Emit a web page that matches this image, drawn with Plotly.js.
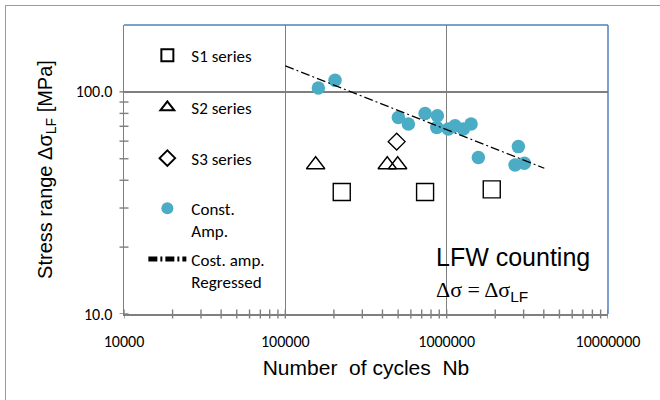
<!DOCTYPE html>
<html>
<head>
<meta charset="utf-8">
<script src="https://cdn.plot.ly/plotly-3.0.1.min.js"></script>
<style>
  html, body { margin: 0; padding: 0; background: #fff; }
  #wrap { position: relative; width: 660px; height: 400px; overflow: hidden; }
  #frame { position: absolute; left: 5px; top: 5px; width: 700px; height: 500px;
           border-left: 1px solid #9a9a9a; border-top: 1px solid #9a9a9a; }
  #chart { position: absolute; left: 0; top: 0; width: 660px; height: 400px; }
</style>
</head>
<body>
<div id="wrap"><div id="frame"></div><div id="chart"></div></div>
<script>
// ---- data ----
const s1Cycles = [223700, 734800, 1903000];
const s1Stress = [35.4, 35.4, 36.4];

const s2Cycles = [154100, 428200, 496800];
const s2Stress = [47, 47, 47];

const s3Cycles = [490000];
const s3Stress = [59.7];

const caCycles = [160200, 203300, 501900, 578900, 734800, 875800, 868200, 1024500,
                  1127000, 1269000, 1416700, 1572000, 2783000, 2655000, 3031000];
const caStress = [104.2, 112.8, 76.7, 71.6, 79.9, 78.0, 69.2, 68.0,
                  70.4, 68.0, 71.6, 50.6, 56.7, 46.9, 47.7];

const regCycles = [100000, 4030000];
const regStress = [131, 45.3];

const seriesNames = ['S1 series', 'S2 series', 'S3 series', 'Const.<br>Amp.', 'Cost. amp.<br>Regressed'];

// decade ticks and the minor (2..9) ticks of each decade
const xMajorTicks = [1e4, 1e5, 1e6, 1e7];
const yMajorTicks = [10, 100];
const minorDigits = [2, 3, 4, 5, 6, 7, 8, 9];

const xRange = [4, 7];                       // log10 of 10000 .. 10000000
const yRange = [1, Math.log10(200)];         // 10 .. 200

const legendFont = {family: 'Carlito, Lato, sans-serif', size: 17, color: '#000'};
const tickFont = {family: 'Carlito, Lato, sans-serif', size: 16, color: '#000'};
const titleFont = {family: 'Liberation Sans, Arial, sans-serif', size: 20, color: '#000'};
const gray = '#7f7f7f';
const blue = '#4F81BD';

function minorVals(majors) {
  const out = [];
  majors.forEach(m => minorDigits.forEach(d => out.push(m * d)));
  return out;
}
const xAllTicks = xMajorTicks.concat(minorVals(xMajorTicks.slice(0, 3)));
const yAllTicks = yMajorTicks.concat(minorVals([10]));

const traces = [
  {x: s1Cycles, y: s1Stress, name: seriesNames[0], mode: 'markers', type: 'scatter', legend: 'legend',
   marker: {symbol: 'square-open', size: 17, color: '#000', line: {width: 1.4, color: '#000'}}},
  {x: s2Cycles, y: s2Stress, name: seriesNames[1], mode: 'markers', type: 'scatter', legend: 'legend2',
   marker: {symbol: 'triangle-up-open', size: 16, color: '#000', line: {width: 1.4, color: '#000'}}},
  {x: s3Cycles, y: s3Stress, name: seriesNames[2], mode: 'markers', type: 'scatter', legend: 'legend3',
   marker: {symbol: 'diamond-open', size: 13, color: '#000', line: {width: 1.4, color: '#000'}}},
  {x: caCycles, y: caStress, name: seriesNames[3], mode: 'markers', type: 'scatter', legend: 'legend4',
   marker: {symbol: 'circle', size: 13.5, color: '#4BACC6'}},
  {x: regCycles, y: regStress, name: seriesNames[4], mode: 'lines', type: 'scatter', legend: 'legend5',
   line: {color: '#000', width: 1.2, dash: '9px,3px,2px,3px'}}
];

function leg(y) {
  return {x: 0.04, xanchor: 'left', y: y, yanchor: 'top', bgcolor: 'rgba(0,0,0,0)',
          borderwidth: 0, font: legendFont, itemsizing: 'constant', itemwidth: 38, valign: 'top'};
}

// cross-style tick marks (straddling the axis lines), placed by the axes' own scales
const tickHalfX = 4.5 / 289;   // px in paper units (vertical)
const tickHalfY = 4.5 / 484;   // px in paper units (horizontal)
const tickShapes = [];
xAllTicks.forEach(v => tickShapes.push({type: 'line', xref: 'x', yref: 'paper', x0: v, x1: v,
  y0: -tickHalfX, y1: tickHalfX, line: {color: gray, width: 1.4}, layer: 'above'}));
yAllTicks.forEach(v => tickShapes.push({type: 'line', xref: 'paper', yref: 'y', x0: -tickHalfY, x1: tickHalfY,
  y0: v, y1: v, line: {color: gray, width: 1.4}, layer: 'above'}));
// blue top and right frame of the plot area
const frameShapes = [
  {type: 'line', xref: 'paper', yref: 'paper', x0: 0, x1: 1, y0: 1, y1: 1, line: {color: blue, width: 1.5}},
  {type: 'line', xref: 'paper', yref: 'paper', x0: 1, x1: 1, y0: 0, y1: 1, line: {color: blue, width: 1.5}}
];

const baseX = {type: 'log', range: xRange, autorange: false, fixedrange: true, zeroline: false};
const baseY = {type: 'log', range: yRange, autorange: false, fixedrange: true, zeroline: false};

const layout = {
  width: 660, height: 400,
  margin: {l: 124, r: 52, t: 25, b: 86},
  paper_bgcolor: 'rgba(0,0,0,0)', plot_bgcolor: '#fff',
  showlegend: true,
  legend: leg(0.956), legend2: leg(0.776), legend3: leg(0.600),
  legend4: leg(0.427), legend5: leg(0.251),
  xaxis: Object.assign({}, baseX, {
    showline: true, linecolor: gray, linewidth: 1.5,
    showgrid: true, gridcolor: gray, gridwidth: 1.3,
    tickmode: 'array', tickvals: xMajorTicks, ticktext: xMajorTicks.map(String),
    ticks: '', tickfont: tickFont, ticklabelstandoff: 12,
    title: {text: 'Number  of cycles  Nb', font: Object.assign({}, titleFont, {size: 21}), standoff: 10}
  }),
  yaxis: Object.assign({}, baseY, {
    showline: true, linecolor: gray, linewidth: 1.5,
    showgrid: true, gridcolor: gray, gridwidth: 1.3,
    tickmode: 'array', tickvals: yMajorTicks, ticktext: yMajorTicks.map(v => v.toFixed(1)),
    ticks: '', tickfont: tickFont, ticklabelstandoff: 7,
    title: {text: 'Stress range Δσ<sub>LF</sub> [MPa]', font: titleFont, standoff: 18}
  }),
  shapes: frameShapes.concat(tickShapes),
  annotations: [
    {xref: 'paper', yref: 'paper', x: 0.64, y: 0.197, xanchor: 'left', yanchor: 'middle',
     text: 'LFW counting', showarrow: false,
     font: {family: 'Liberation Sans, Arial, sans-serif', size: 25, color: '#000'}},
    {xref: 'paper', yref: 'paper', x: 0.64, y: 0.0795, xanchor: 'left', yanchor: 'middle',
     text: 'Δσ = Δσ<sub><span style="font-family:Liberation Sans, Arial, sans-serif">LF</span></sub>', showarrow: false,
     font: {family: 'Liberation Serif, Times New Roman, serif', size: 22, color: '#000'}}
  ]
};

Plotly.newPlot('chart', traces, layout, {staticPlot: true, displayModeBar: false});
</script>
</body>
</html>
